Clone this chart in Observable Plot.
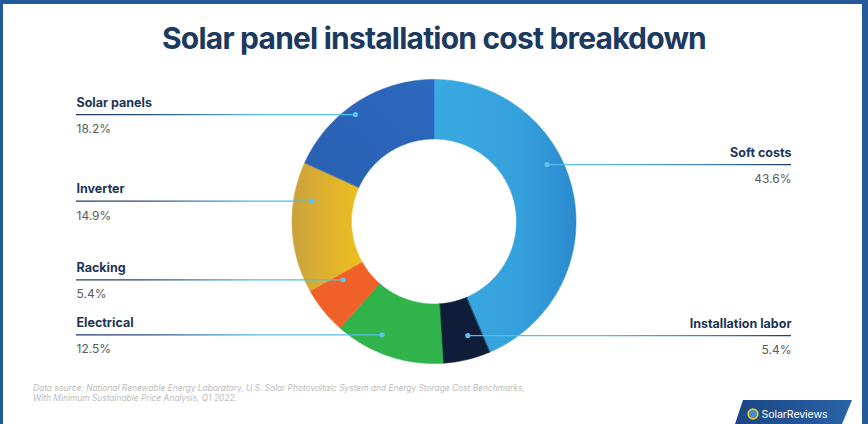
<!DOCTYPE html>
<html>
<head>
<meta charset="utf-8">
<script src="https://cdn.jsdelivr.net/npm/d3@7"></script>
<script src="https://cdn.jsdelivr.net/npm/@observablehq/plot@0.6"></script>
<style>
  html, body { margin: 0; padding: 0; background: #fff; }
  #card { position: relative; width: 868px; height: 424px; overflow: hidden; background: #fff; font-family: Inter, "Noto Sans", sans-serif; }
  #frame { position: absolute; inset: 0; box-sizing: border-box; border-style: solid; border-color: #245a9b; border-width: 4px 6px 0 3px; pointer-events: none; z-index: 5; }
  #title { position: absolute; left: 0; top: 20px; width: 868px; text-align: center; font-family: Inter, sans-serif; font-weight: 700; font-size: 30px; letter-spacing: -0.8px; color: #1c3a5f; white-space: nowrap; z-index: 2; line-height: 36px; }
  #chart { position: absolute; left: 0; top: 0; z-index: 1; }
  #note { position: absolute; left: 33px; top: 384px; font-family: Inter, sans-serif; font-style: italic; font-size: 8.4px; line-height: 9.5px; color: #bcbcbc; z-index: 2; white-space: nowrap; }
  #logo { position: absolute; left: 735px; top: 400px; width: 117px; height: 24px; z-index: 3; }
</style>
</head>
<body>
<div id="card">
  <div id="title"></div>
  <div id="chart"></div>
  <div id="note"></div>
  <svg id="logo" width="117" height="24" viewBox="0 0 117 24">
    <defs>
      <linearGradient id="logoGrad" x1="0" x2="1" y1="0" y2="0">
        <stop offset="0" stop-color="#1a4684"/>
        <stop offset="1" stop-color="#2a63a8"/>
      </linearGradient>
    </defs>
    <polygon points="8,0 117,0 107,24 0,24" fill="url(#logoGrad)"/>
    <circle cx="18" cy="14" r="4.8" fill="#3b8fd6" stroke="#f3c51d" stroke-width="1.8"/>
    <text x="26.5" y="17.8" fill="#fff" font-family="Inter, sans-serif" font-size="10.6" font-weight="400" letter-spacing="-0.1">SolarReviews</text>
  </svg>
  <div id="frame"></div>
</div>
<script>
// ---- Data ----
const titleText = "Solar panel installation cost breakdown";
const categories = ["Soft costs", "Installation labor", "Electrical", "Racking", "Inverter", "Solar panels"];
const shares = [43.6, 5.4, 12.5, 5.4, 14.9, 18.2];
const noteLines = [
  "Data source: National Renewable Energy Laboratory, U.S. Solar Photovoltaic System and Energy Storage Cost Benchmarks,",
  "With Minimum Sustainable Price Analysis, Q1 2022."
];

// ---- Style / layout ----
const sliceColors = ["url(#gSoft)", "#0f1d38", "#2fb34a", "#f0612a", "url(#gInv)", "url(#gSolar)"];
const labelSide = ["right", "right", "left", "left", "left", "left"];
const dotFrac = [0.403, 0.336, 0.627, 0.818, 0.72, 0.446];
const dotRadius = [126.6, 119, 124.6, 107.9, 123.5, 132.7];
const W = 868, H = 424, cx = 433.5, cy = 221;
const outerR = 142, innerR = 82.5, labelOffset = 357.5;

document.getElementById("title").textContent = titleText;
document.getElementById("note").innerHTML = noteLines.map(s => `<div>${s}</div>`).join("");

// Angles: start at 12 o'clock, clockwise
const total = d3.sum(shares);
let acc = 0;
const slices = categories.map((c, i) => {
  const a0 = acc / total * 2 * Math.PI;
  acc += shares[i];
  const a1 = acc / total * 2 * Math.PI;
  return {cat: c, share: shares[i], a0, a1, color: sliceColors[i], side: labelSide[i], i};
});

// Polygon points for each ring slice
const ringPts = [];
for (const s of slices) {
  const n = Math.max(8, Math.ceil((s.a1 - s.a0) / (Math.PI / 360)));
  for (let k = 0; k <= n; k++) {
    const a = s.a0 + (s.a1 - s.a0) * k / n;
    ringPts.push({cat: s.cat, color: s.color, x: outerR * Math.sin(a), y: outerR * Math.cos(a)});
  }
  for (let k = n; k >= 0; k--) {
    const a = s.a0 + (s.a1 - s.a0) * k / n;
    ringPts.push({cat: s.cat, color: s.color, x: innerR * Math.sin(a), y: innerR * Math.cos(a)});
  }
}

// Label anchors
const labels = slices.map(s => {
  const a = s.a0 + (s.a1 - s.a0) * dotFrac[s.i];
  const r = dotRadius[s.i];
  const x = r * Math.sin(a), y = r * Math.cos(a);
  return {...s, dx: x, dy: y, lx: s.side === "left" ? -labelOffset : labelOffset, pct: s.share.toFixed(1) + "%"};
});
const leftLabels = labels.filter(d => d.side === "left");
const rightLabels = labels.filter(d => d.side === "right");

const defs = () => {
  const el = d3.create("svg:defs");
  const grad = (id, attrs, stops) => {
    const g = el.append("linearGradient").attr("id", id);
    for (const [k, v] of Object.entries(attrs)) g.attr(k, v);
    for (const [o, c] of stops) g.append("stop").attr("offset", o).attr("stop-color", c);
  };
  grad("gradL", {gradientUnits: "userSpaceOnUse", x1: 76, x2: 260, y1: 0, y2: 0},
    [[0, "#1f3c66"], [0.35, "#26497a"], [1, "#56bde9"]]);
  grad("gradR", {gradientUnits: "userSpaceOnUse", x1: 600, x2: 791, y1: 0, y2: 0},
    [[0, "#56bde9"], [0.6, "#3f7fb3"], [1, "#1f3c66"]]);
  grad("gSoft", {x1: 0, x2: 1, y1: 0, y2: 0},
    [[0, "#3aa9e1"], [0.6, "#35a1dc"], [1, "#2b8acf"]]);
  grad("gInv", {x1: 0, x2: 1, y1: 0, y2: 0},
    [[0, "#c9a23c"], [0.5, "#deb12e"], [1, "#ecc01f"]]);
  grad("gSolar", {x1: 0, x2: 1, y1: 1, y2: 0},
    [[0, "#2960b3"], [1, "#2d68bd"]]);
  return el.node();
};

const labelText = (data, anchor) => [
  Plot.text(data, {x: "lx", y: "dy", text: "cat", textAnchor: anchor,
    lineAnchor: "bottom", dy: -8, fontSize: 12.5, fontWeight: 700, fill: "#1c3556", fontFamily: "Inter, sans-serif"}),
  Plot.text(data, {x: "lx", y: "dy", text: "pct", textAnchor: anchor,
    lineAnchor: "bottom", dy: 18.5, fontSize: 12, fill: "#5a5a5a", fontFamily: "Inter, sans-serif"})
];

const chart = Plot.plot({
  width: W,
  height: H,
  margin: 0,
  style: {background: "transparent", overflow: "visible"},
  x: {domain: [-cx, W - cx], range: [0, W], axis: null},
  y: {domain: [cy - H, cy], range: [H, 0], axis: null},
  color: {type: "identity"},
  marks: [
    defs,
    Plot.line(ringPts, {x: "x", y: "y", z: "cat", fill: "color", stroke: "color", strokeWidth: 0.6, curve: "linear-closed"}),
    Plot.ruleY(leftLabels, {y: "dy", x1: "lx", x2: "dx", stroke: "url(#gradL)", strokeWidth: 1.3}),
    Plot.ruleY(rightLabels, {y: "dy", x1: "dx", x2: "lx", stroke: "url(#gradR)", strokeWidth: 1.3}),
    Plot.dot(labels, {x: "dx", y: "dy", r: 2.6, fill: "#5cc3ee"}),
    ...labelText(leftLabels, "start"),
    ...labelText(rightLabels, "end")
  ]
});
document.getElementById("chart").appendChild(chart);
</script>
</body>
</html>
